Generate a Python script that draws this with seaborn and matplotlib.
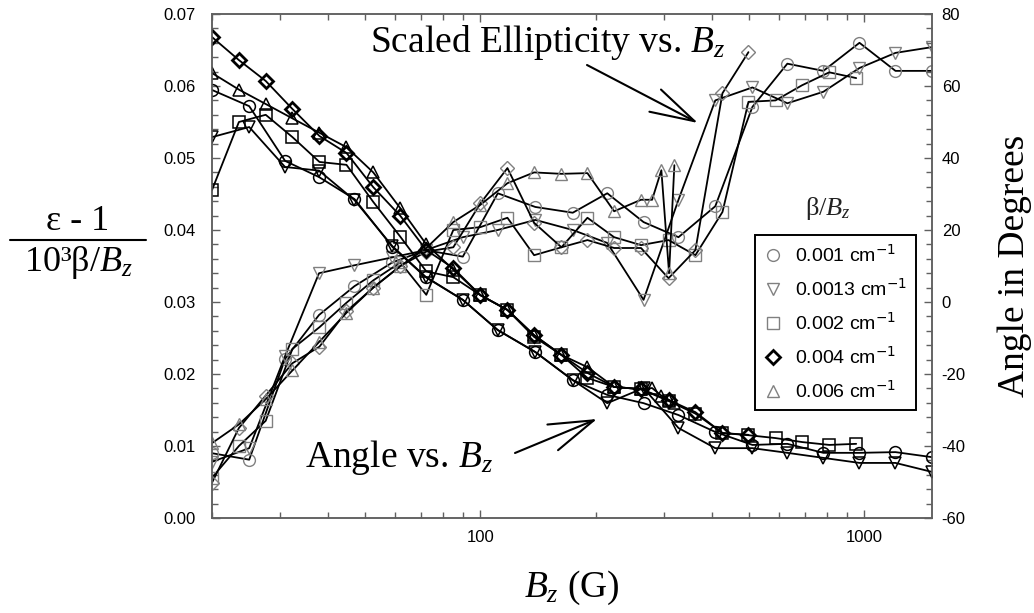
import matplotlib
matplotlib.use("Agg")
import matplotlib.pyplot as plt
import seaborn as sns
from matplotlib.ticker import MultipleLocator, LogLocator, NullFormatter, FixedLocator, FixedFormatter, FormatStrFormatter
from matplotlib.lines import Line2D

# ---------------- data ----------------
# field values (G) for the 0.001 and 0.0013 cm^-1 runs
bz_a = [20, 25, 31, 38, 47, 59, 72, 90, 111, 139, 174, 214, 266, 328, 409, 511, 630, 782, 971, 1205, 1500]
# field values (G) for the 0.002 / 0.004 cm^-1 runs
bz_b = [20, 23.5, 27.6, 32.4, 38.1, 44.8, 52.6, 61.9, 72.3, 85, 100, 117.6, 138, 162.6, 190, 223, 262,
        309, 363, 427, 499, 587, 688, 810, 952]
bz_d = bz_b[:21]
# field values (G) for the 0.006 cm^-1 run
bz_t = [20, 23.5, 27.6, 32.4, 38.1, 44.8, 52.6, 61.9, 72.3, 85, 100, 117.6, 138, 162.6, 190, 223, 262,
        280, 296, 310, 320]

# scaled ellipticity (left axis)
ell_001 = [0.0090, 0.0081, 0.0221, 0.0282, 0.0322, 0.0355, 0.0372, 0.0363, 0.0451, 0.0432, 0.0424, 0.0451,
           0.0411, 0.0390, 0.0433, 0.0571, 0.0631, 0.0621, 0.0660, 0.0621, 0.0621]
ell_0013 = [0.0078, 0.0097, 0.0225, 0.0340, 0.0351, 0.0362, 0.0372, 0.0390, 0.0400, 0.0414, 0.0400, 0.0382,
            0.0303, 0.0442, 0.0580, 0.0598, 0.0576, 0.0592, 0.0625, 0.0646, 0.0654]
ell_002 = [0.0056, 0.0100, 0.0135, 0.0235, 0.0265, 0.0299, 0.0330, 0.0355, 0.0310, 0.0400, 0.0404, 0.0417,
           0.0365, 0.0376, 0.0417, 0.0390, 0.0379, 0.0386, 0.0365, 0.0425, 0.0578, 0.0580, 0.0601, 0.0619, 0.0611]
ell_004 = [0.0049, 0.0125, 0.0170, 0.0215, 0.0238, 0.0287, 0.0320, 0.0350, 0.0370, 0.0376, 0.0437, 0.0486,
           0.0410, 0.0376, 0.0386, 0.0375, 0.0375, 0.0333, 0.0372, 0.0590, 0.0647]
ell_006 = [0.0104, 0.0130, 0.0165, 0.0205, 0.0245, 0.0285, 0.0320, 0.0350, 0.0375, 0.0411, 0.0435, 0.0465,
           0.0480, 0.0478, 0.0479, 0.0426, 0.0442, 0.0442, 0.0483, 0.0340, 0.0490]

# angle in degrees (right axis)
ang_001 = [58.9, 54.4, 39.2, 34.7, 28.6, 15.3, 6.9, 0.6, -7.8, -13.9, -21.7, -25.8, -28.1, -31.4, -36.1,
           -39.7, -39.4, -41.9, -41.9, -41.7, -43.1]
ang_0013 = [45.8, 48.6, 37.5, 36.5, 28.3, 15.5, 7.0, 0.6, -7.8, -13.9, -21.7, -28.1, -23.9, -35.0, -40.6,
            -40.6, -41.9, -43.3, -44.7, -44.7, -47.2]
ang_002 = [31.1, 50.0, 52.0, 45.8, 38.9, 38.1, 27.8, 18.1, 8.5, 6.9, 1.9, -2.2, -9.7, -14.7, -21.1, -23.6,
           -24.2, -27.5, -31.0, -36.4, -37.0, -37.8, -38.9, -39.7, -39.4]
ang_004 = [73.6, 67.2, 61.4, 53.6, 46.1, 41.4, 31.9, 23.9, 14.4, 9.4, 1.9, -2.2, -9.2, -14.7, -19.7, -23.6,
           -24.2, -27.2, -30.6, -36.4, -36.9]
ang_006 = [63.6, 59.0, 55.0, 51.0, 47.0, 43.0, 36.0, 26.0, 16.0, 9.0, 1.9, -2.2, -9.2, -14.7, -18.1, -23.6,
           -24.2, -23.9, -26.0, -27.2, -28.0]

labels = ["0.001 cm$^{-1}$", "0.0013 cm$^{-1}$", "0.002 cm$^{-1}$", "0.004 cm$^{-1}$", "0.006 cm$^{-1}$"]
markers = ["o", "v", "s", "D", "^"]
msizes = [8.5, 9, 8.5, 7, 9]

series = [
    (bz_a, ell_001, ang_001),
    (bz_a, ell_0013, ang_0013),
    (bz_b, ell_002, ang_002),
    (bz_d, ell_004, ang_004),
    (bz_t, ell_006, ang_006),
]

# ---------------- style ----------------
sns.set_style("ticks")
plt.rcParams["font.family"] = ["Liberation Sans", "DejaVu Sans"]
plt.rcParams["mathtext.fontset"] = "custom"
plt.rcParams["mathtext.rm"] = "Liberation Serif"
plt.rcParams["mathtext.it"] = "Liberation Serif:italic"
plt.rcParams["mathtext.bf"] = "Liberation Serif:bold"
plt.rcParams["axes.unicode_minus"] = False
plt.rcParams["text.color"] = "black"
plt.rcParams["xtick.labelcolor"] = "black"
plt.rcParams["ytick.labelcolor"] = "black"

fig = plt.figure(figsize=(10.34, 6.13), dpi=100)
ax = fig.add_axes([212 / 1034, 1 - 518 / 613, 720 / 1034, 504 / 613])
ax2 = ax.twinx()

GRAY = "#808080"
for i, (bz, ell, ang) in enumerate(series):
    sns.lineplot(x=bz, y=ell, ax=ax, color="black", lw=1.3, marker=markers[i], markersize=msizes[i],
                 mfc="none", mec=GRAY, mew=1.0, sort=False, estimator=None, legend=False)
    sns.lineplot(x=bz, y=ang, ax=ax2, color="black", lw=1.3, marker=markers[i], markersize=msizes[i],
                 mfc="none", mec="black", mew=(2.0 if markers[i] == "D" else 1.1),
                 sort=False, estimator=None, legend=False)

ax.set_xscale("log")
ax.set_xlim(20, 1500)
ax.set_ylim(0, 0.07)
ax2.set_ylim(-60, 80)

ax.xaxis.set_major_locator(FixedLocator([100, 1000]))
ax.xaxis.set_major_formatter(FixedFormatter(["100", "1000"]))
ax.xaxis.set_minor_locator(LogLocator(base=10, subs=range(2, 10), numticks=20))
ax.xaxis.set_minor_formatter(NullFormatter())
ax.yaxis.set_major_locator(MultipleLocator(0.01))
ax.yaxis.set_minor_locator(MultipleLocator(0.002))
ax.yaxis.set_major_formatter(FormatStrFormatter("%.2f"))
ax2.yaxis.set_major_locator(MultipleLocator(20))
ax2.yaxis.set_minor_locator(MultipleLocator(4))

SP = "#606060"
for a in (ax, ax2):
    for s in a.spines.values():
        s.set_color(SP)
        s.set_linewidth(1.1)
ax.tick_params(axis="both", which="both", direction="in", color=SP, labelsize=12, labelcolor="black",
               top=True, right=False)
ax.tick_params(axis="both", which="major", length=6, width=1)
ax.tick_params(axis="both", which="minor", length=4, width=1)
ax.tick_params(axis="y", pad=12)
ax.tick_params(axis="x", pad=9)
ax2.tick_params(axis="y", which="both", direction="in", color=SP, labelsize=12, labelcolor="black", pad=7)
ax2.tick_params(axis="y", which="major", length=6, width=1)
ax2.tick_params(axis="y", which="minor", length=4, width=1)
ax.set_xlabel("")
ax.set_ylabel("")
ax2.set_ylabel("")

# ---------------- labels ----------------
SERIF = "Liberation Serif"
fig.text(572 / 1034, 1 - 597 / 613, "$B_z$ (G)", ha="center", va="baseline", family=SERIF, size=27)
fig.text(1015 / 1034, 1 - 266 / 613, "Angle in Degrees", rotation=90, ha="center", va="center",
         family=SERIF, size=27)
fig.text(78 / 1034, 1 - 222 / 613, "ε - 1", ha="center", va="center", family=SERIF, size=26)
fig.add_artist(Line2D([10 / 1034, 146 / 1034], [1 - 240 / 613] * 2, transform=fig.transFigure,
                      color="black", lw=1.5))
fig.text(78 / 1034, 1 - 262 / 613, "10³β/$B_z$", ha="center", va="center", family=SERIF, size=26)

# annotations
ax.annotate("Scaled Ellipticity vs. $B_z$", xy=(370 / 1034, 1 - 52 / 613), xycoords="figure fraction",
            ha="left", va="baseline", family=SERIF, size=27)
ax.annotate("", xy=(698 / 1034, 1 - 123 / 613), xycoords="figure fraction",
            xytext=(587 / 1034, 1 - 65 / 613), textcoords="figure fraction",
            arrowprops=dict(arrowstyle="->,head_length=3.2,head_width=0.9", mutation_scale=10,
                            color="black", lw=1.5, shrinkA=0, shrinkB=0))
ax.annotate("Angle vs. $B_z$", xy=(305 / 1034, 1 - 467 / 613), xycoords="figure fraction",
            ha="left", va="baseline", family=SERIF, size=27)
ax.annotate("", xy=(597 / 1034, 1 - 419 / 613), xycoords="figure fraction",
            xytext=(515 / 1034, 1 - 453 / 613), textcoords="figure fraction",
            arrowprops=dict(arrowstyle="->,head_length=3.2,head_width=1.0", mutation_scale=10,
                            color="black", lw=1.5, shrinkA=0, shrinkB=0))

# legend
handles = []
for i, m in enumerate(markers):
    if m == "D":
        h = Line2D([], [], ls="none", marker=m, ms=msizes[i], mfc="none", mec="black", mew=2.0)
    else:
        h = Line2D([], [], ls="none", marker=m, ms=msizes[i], mfc="none", mec=GRAY, mew=1.0)
    handles.append(h)
leg = fig.legend(handles, labels, loc="upper left", bbox_to_anchor=(755 / 1034, 1 - 235 / 613),
                 frameon=True, fancybox=False, edgecolor="black", framealpha=1, fontsize=14,
                 handlelength=1.0, handletextpad=0.6, labelspacing=0.62, borderpad=0.45,
                 borderaxespad=0)
leg.get_frame().set_linewidth(1.4)
for t in leg.get_texts():
    t.set_math_fontfamily("dejavusans")
    t.set_color("black")
fig.text(828 / 1034, 1 - 208 / 613, "β/$B_z$", ha="center", va="center", family=SERIF, size=19,
         color="#222222")

fig.savefig("out.png", dpi=100)
